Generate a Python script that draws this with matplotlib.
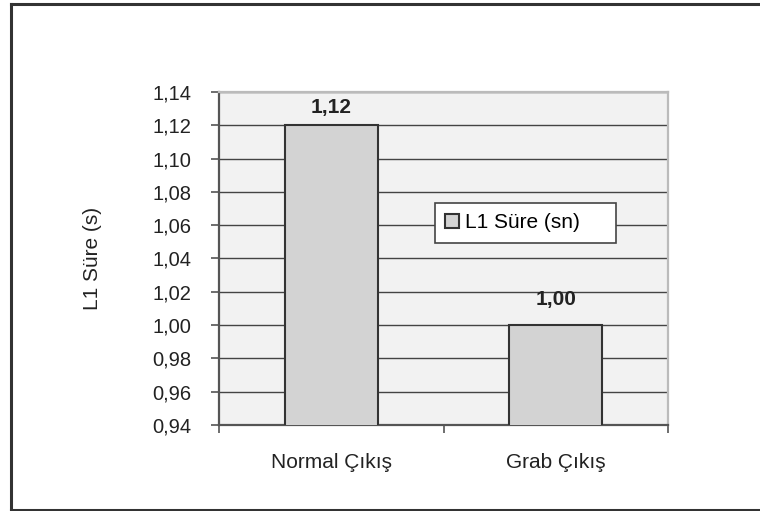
import matplotlib
matplotlib.use("Agg")
import matplotlib.pyplot as plt
from matplotlib.lines import Line2D

categories = ["Normal Çıkış", "Grab Çıkış"]
values = [1.12, 1.00]
series_name = "L1 Süre (sn)"
y_label = "L1 Süre (s)"
y_ticks = [0.94, 0.96, 0.98, 1.00, 1.02, 1.04, 1.06, 1.08, 1.10, 1.12, 1.14]

plt.rcParams["font.family"] = ["Liberation Sans", "DejaVu Sans"]

W, H = 760, 511
fig = plt.figure(figsize=(W / 100, H / 100), dpi=100)


def fx(px):
    return px / W


def fy(py):
    return 1 - py / H


def comma(v):
    return f"{v:.2f}".replace(".", ",")


left, right, top, bottom = 219, 668, 92, 425
ax = fig.add_axes([fx(left), fy(bottom), fx(right) - fx(left), fy(top) - fy(bottom)])
ax.set_facecolor("#f2f2f2")

x = list(range(len(categories)))
bars = ax.bar(x, values, width=0.415, color="#d3d3d3", edgecolor="#333333",
              linewidth=1.5, zorder=3, label=series_name)

ax.set_xlim(-0.5, len(categories) - 0.5)
ax.set_ylim(y_ticks[0], y_ticks[-1])
ax.set_yticks(y_ticks)
ax.set_yticklabels([comma(t) for t in y_ticks], fontsize=14.5, color="#222222")

# category labels centred under bars, tick marks on the category boundaries
ax.set_xticks(x)
ax.set_xticklabels(categories, fontsize=15, color="#222222")
ax.tick_params(axis="x", length=0, pad=20)
ax.set_xticks([-0.5, 0.5, 1.5], minor=True)
ax.tick_params(axis="x", which="minor", length=5.8, width=1.2, color="#555555", direction="out")
ax.tick_params(axis="y", length=5.8, width=1.2, color="#555555", direction="out", pad=14)

ax.yaxis.grid(True, color="#444444", linewidth=1.0, zorder=1)
ax.set_axisbelow(True)

for side in ("left", "bottom"):
    ax.spines[side].set_color("#555555")
    ax.spines[side].set_linewidth(1.6)
for side in ("right", "top"):
    ax.spines[side].set_color("#bbbbbb")
    ax.spines[side].set_linewidth(1.6)

# value labels: 20 px above the bar, kept inside the plot area
for b, v in zip(bars, values):
    bar_top_px = ax.transData.transform((0, v))[1]
    ax_top_px = ax.transData.transform((0, y_ticks[-1]))[1]
    offset_px = min(20, ax_top_px - bar_top_px - 21)
    ax.annotate(comma(v), (b.get_x() + b.get_width() / 2, v),
                xytext=(0, offset_px * 72 / 100), textcoords="offset points",
                ha="center", va="baseline", fontsize=15, fontweight="bold",
                color="#222222", zorder=4)

fig.text(fx(92), fy((top + bottom) / 2), y_label, rotation=90, ha="center",
         va="center", fontsize=15, color="#222222")

leg_x0, leg_x1, leg_y0 = 435, 616, 203
leg = ax.legend(loc="upper left",
                bbox_to_anchor=(fx(leg_x0), fy(leg_y0) - 0.2, fx(leg_x1) - fx(leg_x0), 0.2),
                bbox_transform=fig.transFigure, mode="expand", frameon=True,
                fancybox=False, framealpha=1, edgecolor="#444444", fontsize=15,
                handlelength=0.65, handleheight=0.65, handletextpad=0.3,
                borderpad=0.5, borderaxespad=0)
leg.get_frame().set_linewidth(1.2)
leg.set_zorder(5)

# frame around the chart area
bx0, by0, by1 = fx(11), fy(510), fy(4)
for xs, ys in (([bx0, bx0], [by0, by1]), ([bx0, 1.0], [by1, by1]), ([bx0, 1.0], [by0, by0])):
    fig.add_artist(Line2D(xs, ys, transform=fig.transFigure, color="#333333", linewidth=2.2))

fig.savefig("out.png", dpi=100, facecolor="white")
